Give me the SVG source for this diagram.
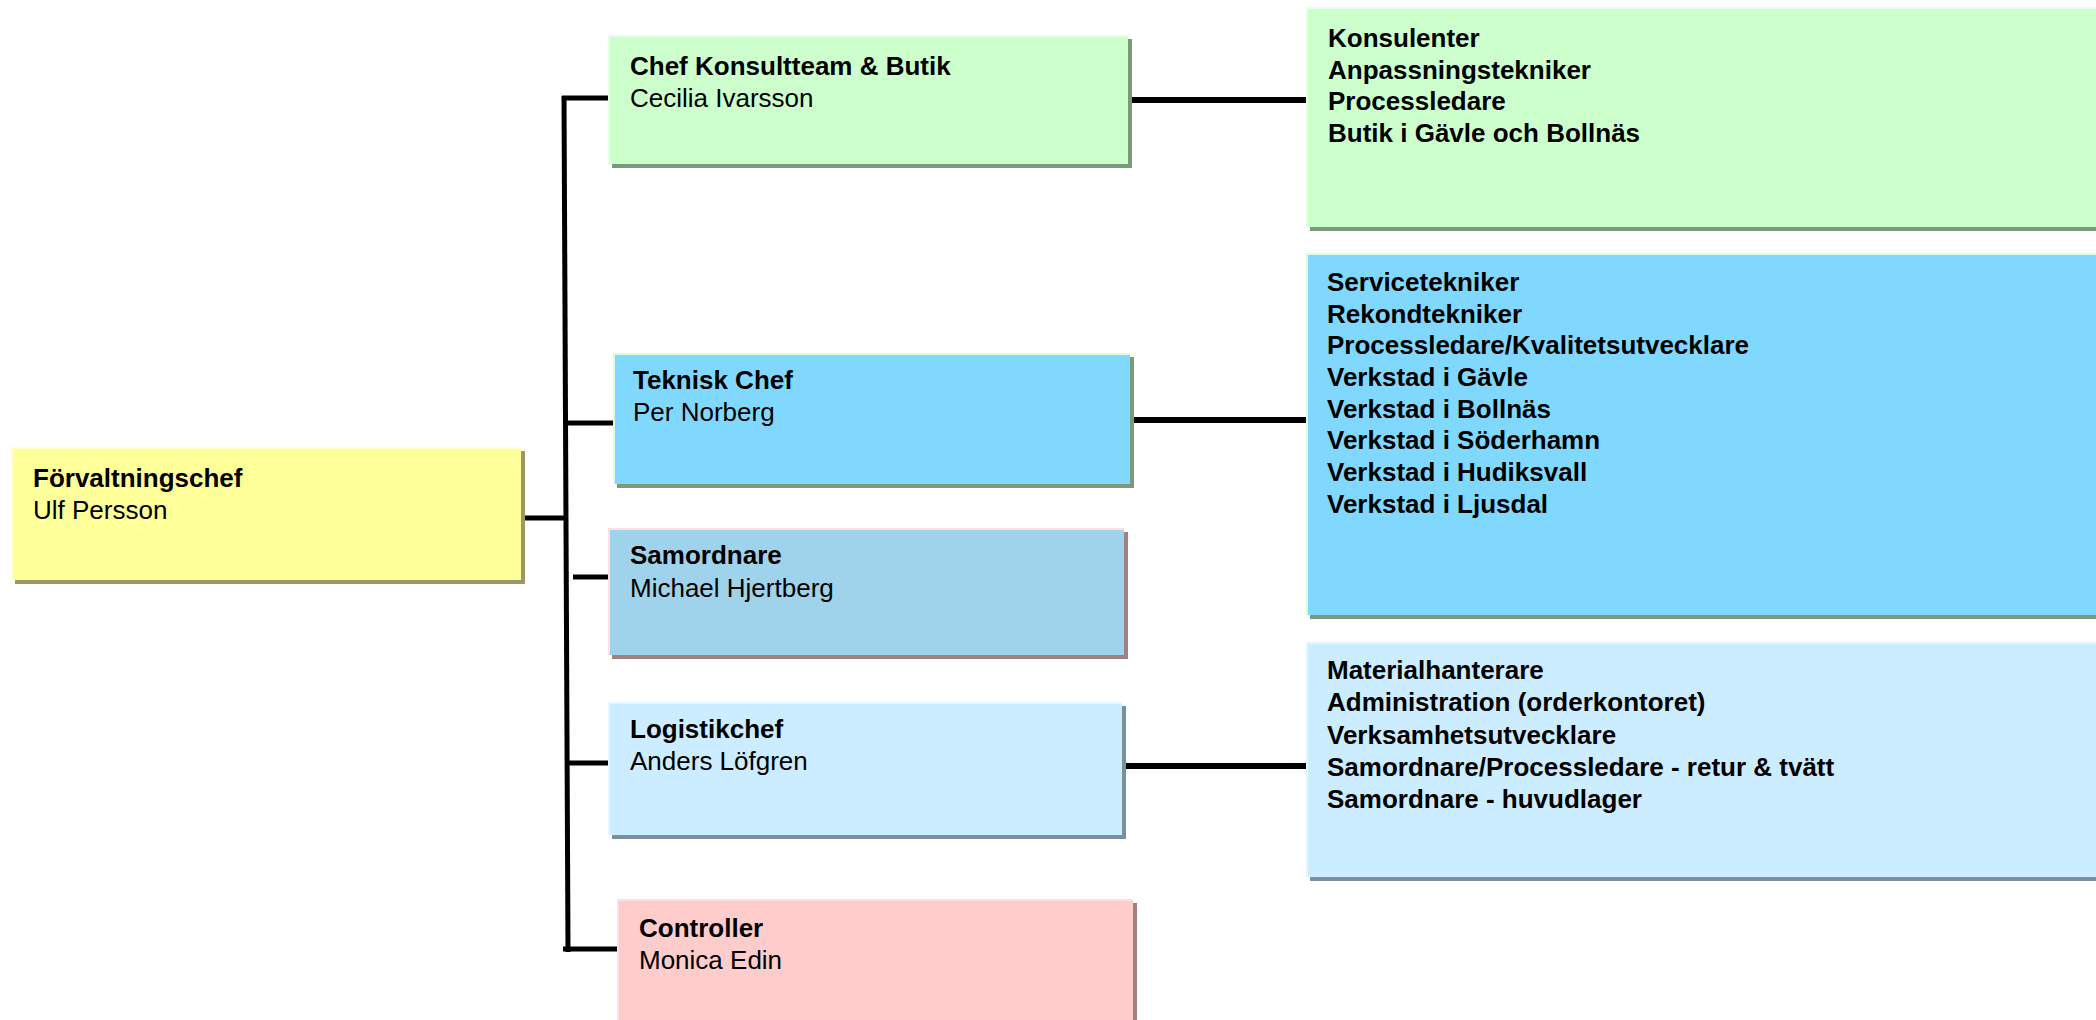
<svg xmlns="http://www.w3.org/2000/svg" width="2096" height="1020" viewBox="0 0 2096 1020">
<style>
  text { font-family: "Liberation Sans", Arial, sans-serif; font-size: 26px; fill: #000; }
  .b { font-weight: bold; }
  .conn line { stroke: #000; stroke-width: 5; stroke-linecap: butt; }
  .conn line.wide { stroke-width: 6; }
  .hl { fill: none; stroke-width: 2; }
</style>
<rect x="0" y="0" width="2096" height="1020" fill="#ffffff"/>

<g id="connectors" class="conn">
  <line x1="521" y1="518" x2="567" y2="518"/>
  <line x1="564" y1="96" x2="568" y2="952"/>
  <line x1="562" y1="98" x2="608" y2="98"/>
  <line x1="565" y1="423" x2="613" y2="423"/>
  <line x1="573" y1="577" x2="608" y2="577"/>
  <line x1="567" y1="763" x2="608" y2="763"/>
  <line x1="563" y1="949" x2="617" y2="949"/>
  <line class="wide" x1="1128" y1="100" x2="1306" y2="100"/>
  <line class="wide" x1="1130" y1="420" x2="1306" y2="420"/>
  <line class="wide" x1="1122" y1="766" x2="1306" y2="766"/>
</g>

<g id="forvaltningschef">
  <rect x="15" y="451" width="510" height="133" fill="#999966"/>
  <rect x="11" y="447" width="510" height="133" fill="#FFFF99"/>
  <polyline class="hl" points="12,580 12,448 521,448" stroke="#FFFFD0"/>
  <text class="b" x="33" y="487">Förvaltningschef</text>
  <text x="33" y="519">Ulf Persson</text>
</g>

<g id="chef-konsultteam">
  <rect x="612" y="39" width="520" height="129" fill="#7A9A7A"/>
  <rect x="608" y="35" width="520" height="129" fill="#CCFFCC"/>
  <polyline class="hl" points="609,164 609,36 1128,36" stroke="#E6FFE6"/>
  <text class="b" x="630" y="75">Chef Konsultteam &amp; Butik</text>
  <text x="630" y="107">Cecilia Ivarsson</text>
</g>

<g id="teknisk-chef">
  <rect x="617" y="357" width="517" height="131" fill="#7A9A7A"/>
  <rect x="613" y="353" width="517" height="131" fill="#80D8FF"/>
  <polyline class="hl" points="614,484 614,354 1130,354" stroke="#D8FFD8"/>
  <text class="b" x="633" y="389">Teknisk Chef</text>
  <text x="633" y="421">Per Norberg</text>
</g>

<g id="samordnare">
  <rect x="612" y="532" width="516" height="127" fill="#A08080"/>
  <rect x="608" y="528" width="516" height="127" fill="#9FD3EB"/>
  <polyline class="hl" points="609,655 609,529 1124,529" stroke="#FFE0E0"/>
  <text class="b" x="630" y="564">Samordnare</text>
  <text x="630" y="597">Michael Hjertberg</text>
</g>

<g id="logistikchef">
  <rect x="612" y="706" width="514" height="133" fill="#7890A0"/>
  <rect x="608" y="702" width="514" height="133" fill="#CCECFF"/>
  <polyline class="hl" points="609,835 609,703 1122,703" stroke="#E6F6FF"/>
  <text class="b" x="630" y="738">Logistikchef</text>
  <text x="630" y="770">Anders Löfgren</text>
</g>

<g id="controller">
  <rect x="621" y="903" width="516" height="130" fill="#A08080"/>
  <rect x="617" y="899" width="516" height="130" fill="#FFCCCC"/>
  <polyline class="hl" points="618,1030 618,900 1133,900" stroke="#FFE0E0"/>
  <text class="b" x="639" y="937">Controller</text>
  <text x="639" y="969">Monica Edin</text>
</g>

<g id="konsultteam-enheter">
  <rect x="1310" y="11" width="790" height="220" fill="#7A9A7A"/>
  <rect x="1306" y="7" width="790" height="220" fill="#CCFFCC"/>
  <polyline class="hl" points="1307,227 1307,8 2096,8" stroke="#E6FFE6"/>
  <text class="b" x="1328" y="47">Konsulenter</text>
  <text class="b" x="1328" y="79">Anpassningstekniker</text>
  <text class="b" x="1328" y="110">Processledare</text>
  <text class="b" x="1328" y="142">Butik i Gävle och Bollnäs</text>
</g>

<g id="teknik-enheter">
  <rect x="1310" y="257" width="790" height="362" fill="#7A9A7A"/>
  <rect x="1306" y="253" width="790" height="362" fill="#80D8FF"/>
  <polyline class="hl" points="1307,615 1307,254 2096,254" stroke="#D8FFD8"/>
  <text class="b" x="1327" y="291">Servicetekniker</text>
  <text class="b" x="1327" y="323">Rekondtekniker</text>
  <text class="b" x="1327" y="354">Processledare/Kvalitetsutvecklare</text>
  <text class="b" x="1327" y="386">Verkstad i Gävle</text>
  <text class="b" x="1327" y="418">Verkstad i Bollnäs</text>
  <text class="b" x="1327" y="449">Verkstad i Söderhamn</text>
  <text class="b" x="1327" y="481">Verkstad i Hudiksvall</text>
  <text class="b" x="1327" y="513">Verkstad i Ljusdal</text>
</g>

<g id="logistik-enheter">
  <rect x="1310" y="646" width="790" height="235" fill="#7890A0"/>
  <rect x="1306" y="642" width="790" height="235" fill="#CCECFF"/>
  <polyline class="hl" points="1307,877 1307,643 2096,643" stroke="#E6F6FF"/>
  <text class="b" x="1327" y="679">Materialhanterare</text>
  <text class="b" x="1327" y="711">Administration (orderkontoret)</text>
  <text class="b" x="1327" y="744">Verksamhetsutvecklare</text>
  <text class="b" x="1327" y="776">Samordnare/Processledare - retur &amp; tvätt</text>
  <text class="b" x="1327" y="808">Samordnare - huvudlager</text>
</g>
</svg>
